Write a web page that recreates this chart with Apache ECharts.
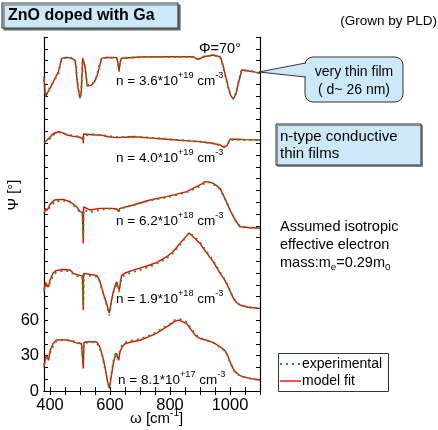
<!DOCTYPE html>
<html>
<head>
<meta charset="utf-8">
<script src="https://cdn.jsdelivr.net/npm/echarts@6.0.0/dist/echarts.min.js"></script>
<style>html,body{margin:0;padding:0;background:#fff;}#c{width:438px;height:430px;}</style>
</head>
<body>
<div id="c"></div>
<script>
// ---------------- data ----------------
const xTickLabels = [400, 600, 800, 1000];
const yTickLabels = [0, 30, 60];
const xTicks = [400,450,500,550,600,650,700,750,800,850,900,950,1000,1050,1100];
const legendNames = ['experimental', 'model fit'];

// curve 1: n = 8.1e17 (offset 0)
const w1 = [380,385,390,395,400,410,420,440,460,475,485,495,505,509,511,513,520,540,556,565,575,585,592,598,604,611,620,626,629,633,640,650,670,700,730,756,780,800,815,828,840,856,870,889,905,922,945,967,980,989,1000,1010,1017,1030,1044,1070,1100];
const fit1 = [20,28,30,26,34,40,43,43.5,43,42,41,40.5,40,39,19,41,41.5,41.8,41.5,38,30,18,8,2.3,12,23.5,32,28,26,33,37,40,41.5,43,46,49,53,56,59,60,59,57,52,46,44,43,41,37.5,35,32,25,19,16.4,13.5,12,10.5,9.3];
const exp1 = [22,27,29,27,32,38,42,43,43,42.5,41.5,41,40,39.5,22,40,41,41.5,41,37,29,17,7,3,13,25,33,29,27,34,38.5,41,42.5,44,47,50,54,57,60,61,60.5,58,53,47,44.5,43,41,37,34.5,31.5,24.5,19,16,13.5,12,10.5,9.3];

// curve 2: n = 1.9e18
const w2 = [380,385,390,395,400,410,420,444,467,478,490,500,508,510,511,512,517,540,556,565,572,580,589,594,598,603,611,617,622,627,631,635,639,650,678,705,733,760,789,810,833,850,864,880,900,922,944,967,980,989,1000,1011,1022,1033,1060,1100];
const fit2 = [84,92,90,88,94,99.7,102,103,102.5,99.7,98.5,98,97.5,97,68.6,99.7,99.7,98.5,98,94,88,81,74,69,66,74,84,89,92.6,88,85.6,93,98,100,102.5,104.5,106.8,109.5,113.8,118,125,130,134,130,125,117,109.6,99.7,95,91,85,78.6,75,72.9,71,70];
const exp2 = [86,90,89,88,92,97.5,100.5,102,101.5,99,97.5,97,97,96.5,72,98.5,98.5,97.5,97,93,87,80,73,68,64,73,83,88.5,91.5,87,84,92,96.5,98.5,101,103,105.5,108.5,112.5,117,124,129.5,134,131,126,118,110.5,100.5,95.5,91,85,78.5,75,72.9,71,70];

// curve 3: n = 6.2e18
const w3 = [380,385,390,400,415,444,467,489,500,508,510,511,512,517,533,567,600,622,626,628,630,633,678,733,789,856,900,917,930,944,967,985,1000,1017,1033,1060,1100];
const fit3 = [150.6,154.8,153,158,161.9,162.4,160.4,156,152,151.5,151,125,156,156,153.4,154.8,154.8,154.5,153,152,153.5,154.8,157.6,161.9,164.7,169,174.6,177.4,177,176,171.8,162,153.4,145,139.2,138.5,137.9];
const exp3 = [152,153,152.5,156,160.5,161.5,160,155,151.5,151,150.5,130,153.5,152.5,151.5,153.5,154.5,154,153,151.5,153,154.5,157.5,161.5,164,168.5,173.5,176.5,177,175.5,171,162,153.5,145,139.5,138.5,137.9];

// curve 4: n = 4.0e19
const w4 = [380,385,390,400,410,428,440,456,475,489,500,506,510,511,512,517,540,567,595,622,650,678,730,789,850,900,940,967,980,990,1000,1020,1050,1100];
const fit4 = [209.9,211,212.7,215,218,219.7,219,217,216,215.5,215,214,213.5,209.9,217.8,217.5,217.2,217,215.5,214.7,215,215.5,214.5,213.3,212.2,211.3,210,208.5,206.5,208,213.3,213.3,213,212.7];
const exp4 = [210.5,211.5,212,214,217,219,219,217.5,216.5,216,215.5,215,214.5,212,216.5,217,217.5,216.8,216,215.2,215.2,215.5,214.8,213.5,212.3,211.2,210,208.5,207,208.5,213,213,212.8,212.7];

// curve 5: n = 3.6e19 (very thin film)
const w5 = [380,383,386,390,400,417,428,435,439,456,472,483,487,489,494,500,504,507,509,517,524,532,539,548,556,564,572,589,622,626,630,634,639,700,800,877,885,894,903,911,944,967,972,978,986,994,1002,1011,1020,1028,1039,1056,1078,1100];
const fit5 = [266.4,255,249.4,252,256.5,265,270.6,278,281.9,282.7,281.9,280.5,274,266.4,256,248,252,270,282,274.8,258.5,258.8,259.3,262,266.4,274,281.9,282.7,282.5,279,270.6,279,282,283,283.3,283.3,282,281,282,283.3,284.7,283.3,280,274.8,266,257.9,250.5,247.5,252,260.8,272,271.4,270.6,269.2];
const exp5 = [264,254,250,253,257,264.5,269,277,281.5,282.5,282,281,275,267,256.5,248.5,253,268,281,275,259.5,259,259.8,262.5,267,275,281.5,282.5,282.3,279.5,271.5,279.5,282.2,283,283.1,283.1,282.3,281.3,282.2,283.3,284.5,283,279.5,274,265.5,257.5,250.5,247.5,252.5,261.5,272.5,271.5,270.8,269.2];

const curves = [[w1,fit1,exp1],[w2,fit2,exp2],[w3,fit3,exp3],[w4,fit4,exp4],[w5,fit5,exp5]];

const nLabels = [
  ['8.1*10', '+17'],
  ['1.9*10', '+18'],
  ['6.2*10', '+18'],
  ['4.0*10', '+19'],
  ['3.6*10', '+19']
];

// ---------------- helpers ----------------
const FONT = '"Liberation Sans", Arial, sans-serif';
const RED = '#ff0000';
const GREEN = '#1f9a1f';
const GREEN_DASH = [2, 4];
const mctx = document.createElement('canvas').getContext('2d');
function measure(t, size, weight) {
  mctx.font = (weight || 'normal') + ' ' + size + 'px ' + FONT;
  return mctx.measureText(t).width;
}
// parts: [text, kind] kind: 'n' | 'sup' | 'sub'
function richText(x, y, parts, size, opts) {
  opts = opts || {};
  const els = [];
  let cx = x;
  for (const [t, kind] of parts) {
    const fs = kind === 'n' ? size : size * 0.68;
    const dy = kind === 'sup' ? -size * 0.42 : (kind === 'sub' ? size * 0.28 : 0);
    els.push({
      type: 'text', x: cx, y: y + dy, z: 100,
      style: { text: t, fontSize: fs, fontFamily: FONT, fontWeight: opts.weight || 'normal',
               fill: '#000', align: 'left', verticalAlign: 'middle' }
    });
    cx += measure(t, fs, opts.weight);
  }
  return els;
}
function plainText(x, y, t, size, align, extra) {
  return Object.assign({ type: 'text', x, y, z: 100,
    style: Object.assign({ text: t, fontSize: size, fontFamily: FONT, fill: '#000', align: align || 'left', verticalAlign: 'middle' }, (extra && extra.style) || {}) },
    extra && extra.el || {});
}

const yTicks = [];
for (let v = 0; v <= 300; v += 10) yTicks.push(v);

// ---------------- series ----------------
const series = [];
curves.forEach(([w, f, e]) => {
  series.push({
    name: legendNames[1], type: 'line', symbol: 'none', showSymbol: false,
    data: w.map((v, i) => [v, f[i]]),
    lineStyle: { color: RED, width: 1.4 }, itemStyle: { color: RED },
    z: 2, animation: false
  });
  series.push({
    name: legendNames[0], type: 'line', symbol: 'none', showSymbol: false,
    data: w.map((v, i) => [v, e[i]]),
    lineStyle: { color: GREEN, width: 2, type: GREEN_DASH }, itemStyle: { color: GREEN },
    z: 3, animation: false
  });
});

// ---------------- graphics ----------------
const g = [];
// title box
g.push({ type: 'rect', shape: { x: 2, y: 3, width: 176, height: 25 }, z: 90,
  style: { fill: '#cce8f9', stroke: '#444', lineWidth: 1.2, shadowColor: '#666', shadowOffsetX: 2, shadowOffsetY: 2, shadowBlur: 0 } });
g.push(plainText(8, 16, 'ZnO doped with Ga', 16, 'left', { style: { fontWeight: 'bold' } }));
g.push(plainText(437, 21, '(Grown by PLD)', 13.5, 'right'));
g.push(plainText(199, 49, 'Φ=70°', 14.5));

// callout
g.push({ type: 'rect', shape: { x: 305, y: 57, width: 98, height: 45, r: 8 }, z: 90,
  style: { fill: '#cce8f9', stroke: '#333', lineWidth: 1 } });
g.push({ type: 'polygon', shape: { points: [[259, 72], [307, 63.5], [307, 76.5]] }, z: 91,
  style: { fill: '#cce8f9', stroke: null } });
g.push({ type: 'polyline', shape: { points: [[305.5, 63], [259, 72], [305.5, 77]] }, z: 92,
  style: { stroke: '#333', lineWidth: 1, fill: null } });
g.push(plainText(354, 72, 'very thin film', 14, 'center'));
g.push(plainText(354, 90, '( d~ 26 nm)', 14, 'center'));

// n-type box
g.push({ type: 'rect', shape: { x: 276, y: 124, width: 145, height: 41 }, z: 90,
  style: { fill: '#cce8f9', stroke: '#333', lineWidth: 1, shadowColor: '#888', shadowOffsetX: 1.5, shadowOffsetY: 1.5, shadowBlur: 0 } });
g.push(plainText(280, 137, 'n-type conductive', 15));
g.push(plainText(280, 154, 'thin films', 15));

// assumption text
g.push(plainText(280, 227, 'Assumed isotropic', 14.5));
g.push(plainText(280, 245, 'effective electron', 14.5));
g.push(...richText(280, 263, [['mass:m', 'n'], ['e', 'sub'], ['=0.29m', 'n'], ['0', 'sub']], 14.5));

// n labels
const nPos = [[118, 380], [116, 299], [116, 221], [116, 158], [116, 81]];
nLabels.forEach(([base, ex], i) => {
  g.push(...richText(nPos[i][0], nPos[i][1], [['n = ' + base, 'n'], [ex, 'sup'], [' cm', 'n'], ['-3', 'sup']], 13.5));
});

// axis titles
g.push(plainText(14, 195, 'Ψ [°]', 15, 'center', { el: { rotation: Math.PI / 2 } }));
g.push(...richText(130, 419, [['ω [cm', 'n'], ['-1', 'sup'], [']', 'n']], 15));

// legend (drawn manually)
g.push({ type: 'rect', shape: { x: 278.5, y: 353.5, width: 110, height: 38 }, z: 90,
  style: { fill: '#fff', stroke: '#333', lineWidth: 1 } });
g.push({ type: 'line', shape: { x1: 280, y1: 364, x2: 301, y2: 364 }, z: 95,
  style: { stroke: GREEN, lineWidth: 2, lineDash: GREEN_DASH } });
g.push({ type: 'line', shape: { x1: 280, y1: 381, x2: 301, y2: 381 }, z: 95,
  style: { stroke: RED, lineWidth: 1.4 } });
g.push(plainText(302, 364, legendNames[0], 14));
g.push(plainText(302, 381, legendNames[1], 14));

// ---------------- chart ----------------
const chart = echarts.init(document.getElementById('c'), null, { renderer: 'canvas' });
const axisLine = { show: true, lineStyle: { color: '#000', width: 1.2 } };
chart.setOption({
  animation: false,
  backgroundColor: '#fff',
  grid: { left: 44, right: 178, top: 37, bottom: 39 },
  xAxis: [
    { type: 'value', min: 380, max: 1100, position: 'bottom', axisLine,
      splitLine: { show: false },
      axisTick: { show: true, inside: true, length: 4, lineStyle: { color: '#000' }, customValues: xTicks },
      axisLabel: { show: true, customValues: xTickLabels, formatter: v => String(v), fontSize: 16.5, fontFamily: FONT, color: '#000', margin: 6 } },
    { type: 'value', min: 380, max: 1100, position: 'top', axisLine,
      splitLine: { show: false },
      axisTick: { show: true, inside: true, length: 4, lineStyle: { color: '#000' }, customValues: xTicks },
      axisLabel: { show: false } }
  ],
  yAxis: [
    { type: 'value', min: 0, max: 300, position: 'left', axisLine,
      splitLine: { show: false },
      axisTick: { show: true, inside: true, length: 4, lineStyle: { color: '#000' }, customValues: yTicks },
      axisLabel: { show: true, customValues: yTickLabels, formatter: v => String(v), fontSize: 16.5, fontFamily: FONT, color: '#000', margin: 5 } },
    { type: 'value', min: 0, max: 300, position: 'right', axisLine,
      splitLine: { show: false },
      axisTick: { show: true, inside: true, length: 4, lineStyle: { color: '#000' }, customValues: yTicks },
      axisLabel: { show: false } }
  ],
  series,
  graphic: g
});
</script>
</body>
</html>
